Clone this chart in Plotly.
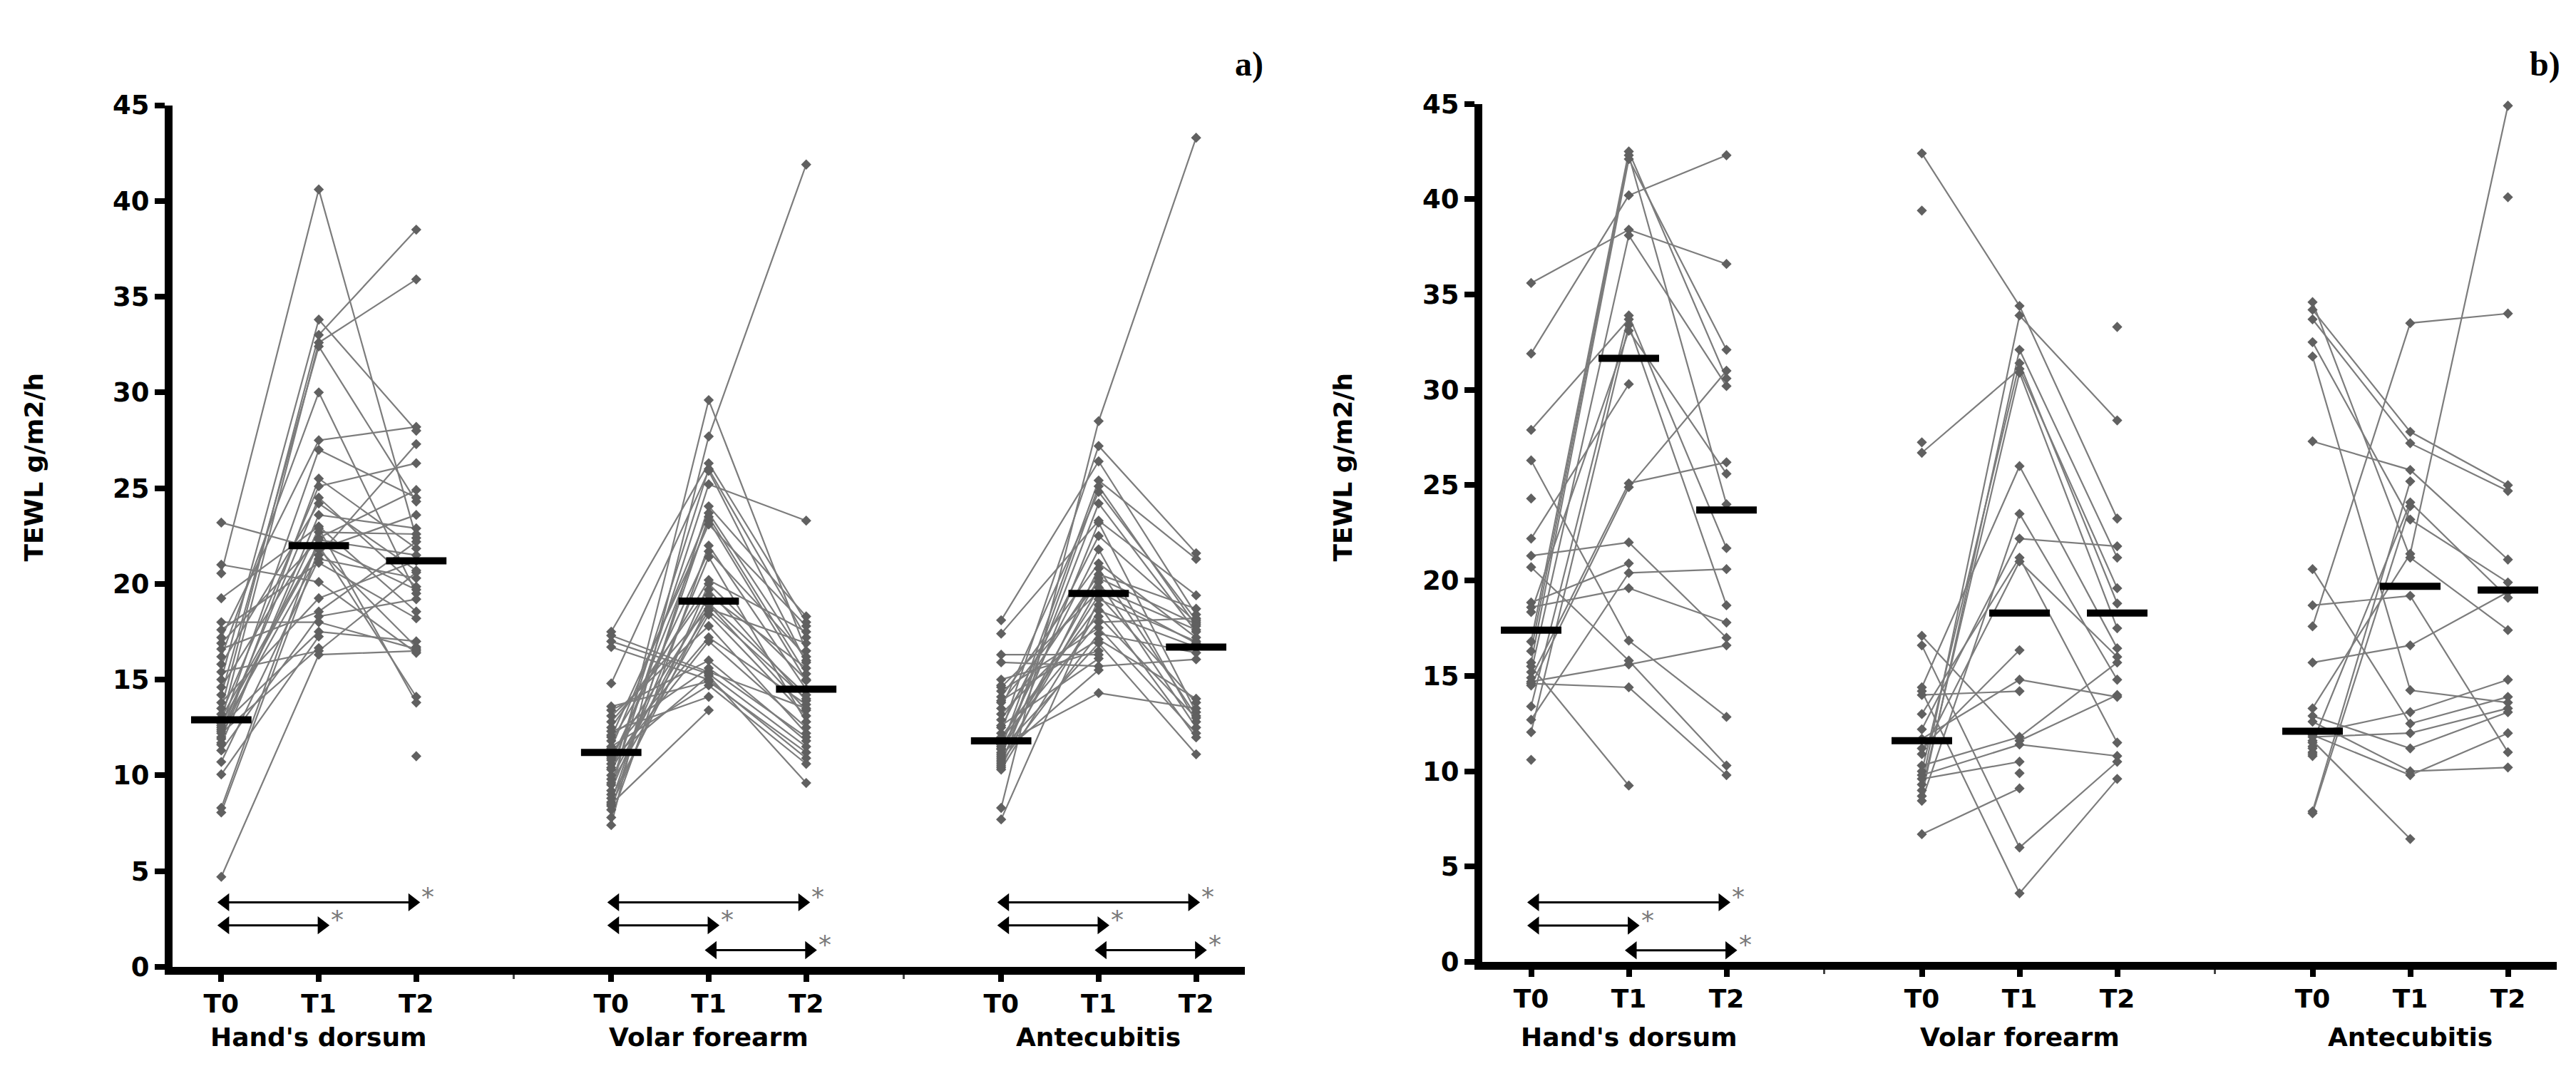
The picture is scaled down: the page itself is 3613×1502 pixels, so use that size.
import plotly.graph_objects as go

W, H = 3613, 1502

# ---------------- data ----------------
times = ["T0", "T1", "T2"]
sites = ["Hand's dorsum", "Volar forearm", "Antecubitis"]
site_start = [0, 4, 8]            # category slot of T0 for each site
y_ticks = [0, 5, 10, 15, 20, 25, 30, 35, 40, 45]

# Panel a) one entry per subject, None = missing
a_hand_T0 = [20.55, 15.0, 13.5, 12.8, 14.2, 16.2, 17.2, 12.5, 11.9, 13.2, 12.3, 15.8, 11.6, 19.25, 12.0, 14.6, 8.3, 16.9,
             13.0, 12.7, 8.06, 23.2, 12.4, 10.7, 17.6, 21.0, 13.8, 16.6, 11.3, 18.0, 12.6, 10.05, 12.2, 15.4, 4.7, 11.7]
a_hand_T1 = [40.6, 33.8, 33.0, 32.6, 32.4, 30.0, 27.5, 27.0, 25.5, 25.1, 24.5, 24.2, 23.6, 23.0, 22.9, 22.7, 22.4, 22.3,
             22.1, 22.0, 21.8, 21.8, 21.5, 21.3, 21.1, 20.1, 19.25, 18.55, 18.3, 18.0, 17.5, 17.25, 16.65, 16.5, 16.3, None]
a_hand_T2 = [22.4, 28.0, 38.5, 35.9, 24.3, 19.5, 28.2, 24.5, 21.85, 26.3, 19.85, 20.7, 22.9, 18.55, 13.8, 22.6, 24.9, 21.5,
             19.7, 14.1, 23.6, 16.7, 27.3, 20.3, 18.2, 16.4, 21.2, 22.2, 19.2, 16.6, 17.0, None, None, 20.6, 16.5, 11.0]

a_volar_T0 = [9.0, 7.4, 17.5, 10.0, 14.8, 9.5, 8.2, 11.4, 8.6, 10.4, 12.0, 7.8, 10.8, 9.2, 11.8, 8.4, 12.5, 9.8,
              11.0, 8.8, 12.8, 10.3, 9.6, 13.1, 11.2, 10.6, 13.4, 12.1, 17.3, 17.0, 10.9, 16.7, 13.6, 11.5, 12.3, 8.5]
a_volar_T1 = [29.6, 27.7, 26.3, 26.0, 25.9, 25.2, 24.05, 23.7, 23.5, 23.3, 23.1, 22.0, 21.7, 21.4, 20.2, 20.0, 19.7, 19.4,
              19.0, 18.9, 18.7, 18.6, 18.4, 17.8, 17.2, 17.0, 16.0, 15.6, 15.4, 15.3, 15.2, 15.0, 14.9, 14.7, 14.1, 13.4]
a_volar_T2 = [16.5, 41.9, 18.0, 17.2, 15.9, 23.3, 18.3, 16.0, 15.3, 14.95, 17.8, 14.5, 16.2, 12.8, 17.5, 15.0, 13.9, 15.6,
              14.2, 13.4, 16.9, 14.0, 13.1, 12.2, 13.7, 12.5, 11.8, 12.0, 13.5, 11.5, 9.6, 10.9, 11.2, 10.6, None, None]

a_ante_T0 = [8.3, 12.2, 18.1, 11.4, 10.9, 13.5, 11.0, 17.4, 10.6, 12.5, 11.7, 14.1, 10.4, 12.9, 11.2, 13.8, 10.8, 14.6,
             11.5, 7.7, 12.0, 10.3, 13.2, 11.9, 14.4, 10.7, 13.9, 11.35, 15.0, 15.9, 11.6, 16.3, 12.6, 11.1, 14.7, 10.5]
a_ante_T1 = [28.5, 27.2, 26.4, 25.4, 25.1, 24.8, 24.2, 23.3, 23.2, 22.5, 21.8, 21.07, 20.8, 20.5, 20.3, 20.1, 19.8, 19.6,
             19.4, 19.2, 18.9, 18.6, 18.3, 18.0, 17.7, 17.4, 17.1, 16.9, 16.5, 15.7, 14.3, 16.3, 16.1, 15.5, None, None]
a_ante_T2 = [43.3, 21.6, 18.4, 21.3, 17.8, 18.1, 17.5, 19.4, 13.3, 18.0, 12.8, 17.2, 13.1, 18.7, 17.9, 12.5, 17.6, 16.9,
             13.8, 17.0, 11.98, 16.7, 13.0, 18.2, 12.2, 16.4, 14.0, 11.1, None, 16.06, 13.5, None, None, None, None, None]

a_medians = [[12.9, 22.0, 21.2], [11.2, 19.1, 14.5], [11.8, 19.5, 16.7]]
# (site, from time, to time, arrow level)
a_comparisons = [(0, 0, 2, 3.37), (0, 0, 1, 2.17),
                 (1, 0, 2, 3.37), (1, 0, 1, 2.17), (1, 1, 2, 0.87),
                 (2, 0, 2, 3.37), (2, 0, 1, 2.17), (2, 1, 2, 0.87)]

# Panel b)
b_hand_T0 = [35.6, 31.9, 27.9, 26.3, 24.3, 22.2, 21.3, 20.7, 18.85, 14.7, 18.35, 16.8, 16.3, 15.7, 15.5, 15.2, 14.9, 14.5,
             14.6, 13.4, 12.7, 12.05, 10.6, 18.6]
b_hand_T1 = [38.4, 40.2, 33.7, 16.85, None, 30.3, 22.0, 15.8, 20.9, 15.6, 33.1, 42.5, 42.3, 42.1, 9.25, 38.1, 25.1, 24.9,
             14.4, 33.9, 20.4, 33.4, None, 19.6]
b_hand_T2 = [36.6, 42.3, None, 12.85, None, None, 17.0, 10.3, None, 16.6, 25.6, 30.6, 24.0, 32.1, None, 30.2, 26.2, 31.0,
             9.8, 21.7, 20.6, 18.7, None, 17.8]

b_volar_T0 = [42.4, 39.4, 27.25, 26.7, 9.3, 8.7, 10.0, 9.0, 14.4, 8.45, 12.2, 16.6, 14.2, 13.0, 17.1, 11.7, 11.2, 10.9,
              10.3, 9.8, 9.6, 6.7, 14.0, None, None]
b_volar_T1 = [34.4, None, None, 31.1, 33.9, 32.1, 31.4, 30.9, 26.0, 23.5, 22.2, 6.0, 3.6, 21.2, 11.6, 14.8, 16.35, 21.0,
              11.8, 11.4, 10.5, 9.1, 14.2, 9.9, None]
b_volar_T2 = [23.25, None, None, 19.6, 28.4, 21.2, 18.8, 17.5, 16.45, 14.8, 21.8, 10.5, 9.6, 11.5, 14.0, 13.9, None, 16.0,
              15.7, 10.8, None, None, None, None, 33.3]

b_ante_T0 = [34.6, 34.2, 33.7, 32.5, 31.75, 27.3, 20.6, 18.7, 17.6, 15.7, 13.3, 12.9, 12.6, 12.0, 11.9, 11.8, 11.6, 11.5,
             7.8, 11.3, 11.2, 11.0, 7.9, 10.9, 10.8, None]
b_ante_T1 = [21.2, 27.8, 27.2, 23.2, 14.25, 25.8, 12.5, 19.2, 33.5, 16.6, 21.4, 11.2, 10.0, 13.1, 9.8, 12.0, 6.45, 24.1,
             23.9, None, None, None, 25.2, None, None, None]
b_ante_T2 = [17.4, 25.0, 24.7, 19.9, 13.6, 21.1, 13.9, 11.0, 34.0, 19.4, 44.9, 13.1, 10.2, 14.8, 12.0, 13.3, None, 19.1,
             None, None, None, None, None, None, None, 40.1]

b_medians = [[17.4, 31.65, 23.7], [11.6, 18.3, 18.3], [12.1, 19.7, 19.5]]
b_comparisons = [(0, 0, 2, 3.13), (0, 0, 1, 1.91), (0, 1, 2, 0.61)]

# ---------------- styling ----------------
FONT = "DejaVu Sans"
LINE_C = "#7c7c7c"
MARK_C = "#606060"
STAR_C = "#7a7a7a"
PX_PER_UNIT = 137.0

panels = [
    dict(label="a)", xa="x", ya="y", xdom=(234, 1738), ydom=(1366, 122),
         groups=[(a_hand_T0, a_hand_T1, a_hand_T2), (a_volar_T0, a_volar_T1, a_volar_T2),
                 (a_ante_T0, a_ante_T1, a_ante_T2)],
         medians=a_medians, comps=a_comparisons, label_px=(1744, 63), title_px=(40, 645)),
    dict(label="b)", xa="x2", ya="y2", xdom=(2071, 3578), ydom=(1359, 120),
         groups=[(b_hand_T0, b_hand_T1, b_hand_T2), (b_volar_T0, b_volar_T1, b_volar_T2),
                 (b_ante_T0, b_ante_T1, b_ante_T2)],
         medians=b_medians, comps=b_comparisons, label_px=(3561, 63), title_px=(1876, 645)),
]

fig = go.Figure()
annotations = []
tickvals = [s + t for s in site_start for t in range(3)]
ticktext = [times[t] for s in site_start for t in range(3)]

for p in panels:
    xa, ya = p["xa"], p["ya"]
    # subject lines + markers
    for gi, (t0, t1, t2) in enumerate(p["groups"]):
        base = site_start[gi]
        xs, ys = [], []
        for v0, v1, v2 in zip(t0, t1, t2):
            xs += [base, base + 1, base + 2, None]
            ys += [v0, v1, v2, None]
        fig.add_trace(go.Scatter(
            x=xs, y=ys, mode="lines+markers", connectgaps=False,
            line=dict(color=LINE_C, width=2.2),
            marker=dict(symbol="diamond", size=11, color=MARK_C, line=dict(width=0)),
            xaxis=xa, yaxis=ya, showlegend=False, hoverinfo="skip", cliponaxis=False))
    # median bars
    mx, my = [], []
    for gi, meds in enumerate(p["medians"]):
        for t, m in enumerate(meds):
            c = site_start[gi] + t
            mx += [c - 0.31, c + 0.31, None]
            my += [m, m, None]
    fig.add_trace(go.Scatter(x=mx, y=my, mode="lines", line=dict(color="black", width=10),
                             xaxis=xa, yaxis=ya, showlegend=False, hoverinfo="skip"))
    # significance arrows
    r_units = 11 / PX_PER_UNIT
    for (gi, fa, fb, lvl) in p["comps"]:
        base = site_start[gi]
        left_tip = base + fa - 0.04
        right_tip = base + fb + (0.04 if fb - fa == 2 else 0.11)
        fig.add_trace(go.Scatter(x=[left_tip + 0.06, right_tip - 0.06], y=[lvl, lvl], mode="lines",
                                 line=dict(color="black", width=3),
                                 xaxis=xa, yaxis=ya, showlegend=False, hoverinfo="skip"))
        fig.add_trace(go.Scatter(x=[left_tip + r_units, right_tip - r_units], y=[lvl, lvl], mode="markers",
                                 marker=dict(symbol=["triangle-left", "triangle-right"], size=22, color="black",
                                             line=dict(width=0)),
                                 xaxis=xa, yaxis=ya, showlegend=False, hoverinfo="skip", cliponaxis=False))
        annotations.append(dict(x=right_tip, y=lvl, xref=xa, yref=ya, text="*", showarrow=False,
                                xanchor="center", yanchor="middle", xshift=11, yshift=8,
                                font=dict(family=FONT, size=36, color=STAR_C)))
    # site labels
    for gi, s in enumerate(sites):
        annotations.append(dict(x=site_start[gi] + 1, y=1 - 1467 / H, xref=xa, yref="paper", text=s,
                                showarrow=False, xanchor="center", yanchor="middle",
                                font=dict(family=FONT, size=36, color="black", weight="bold")))
    # y title
    annotations.append(dict(x=p["title_px"][0] / W, y=1 - p["title_px"][1] / H, xref="paper", yref="paper",
                            text="TEWL g/m2/h", textangle=-90, showarrow=False,
                            xanchor="center", yanchor="middle",
                            font=dict(family=FONT, size=36, color="black", weight="bold")))
    # panel letter
    annotations.append(dict(x=p["label_px"][0] / W, y=1 - p["label_px"][1] / H, xref="paper", yref="paper",
                            text=p["label"], showarrow=False, xanchor="center", yanchor="middle",
                            font=dict(family="Liberation Serif", size=48, color="black", weight="bold")))

def xaxis_cfg(dom, anchor):
    return dict(domain=[dom[0] / W, dom[1] / W], range=[-0.5, 10.5], anchor=anchor,
                showline=True, linewidth=11, linecolor="black", mirror=False,
                ticks="outside", ticklen=10, tickwidth=8, tickcolor="black",
                tickvals=tickvals, ticktext=ticktext,
                tickfont=dict(family=FONT, size=36, color="black", weight="bold"),
                minor=dict(tickvals=[3, 7], ticks="outside", ticklen=6, tickwidth=3, tickcolor="#444444"),
                showgrid=False, zeroline=False, fixedrange=True)

def yaxis_cfg(dom, anchor):
    return dict(domain=[1 - dom[0] / H, 1 - dom[1] / H], range=[0, 45], anchor=anchor,
                showline=True, linewidth=11, linecolor="black", mirror=False,
                ticks="outside", ticklen=14, tickwidth=8, tickcolor="black",
                tickvals=y_ticks, ticktext=[str(v) for v in y_ticks],
                tickfont=dict(family=FONT, size=37, color="black", weight="bold"),
                showgrid=False, zeroline=False, fixedrange=True)

fig.update_layout(
    width=W, height=H, margin=dict(l=0, r=0, t=0, b=0),
    paper_bgcolor="white", plot_bgcolor="white",
    xaxis=xaxis_cfg(panels[0]["xdom"], "y"), yaxis=yaxis_cfg(panels[0]["ydom"], "x"),
    xaxis2=xaxis_cfg(panels[1]["xdom"], "y2"), yaxis2=yaxis_cfg(panels[1]["ydom"], "x2"),
    annotations=annotations, showlegend=False,
)

fig.write_html("out.html")
